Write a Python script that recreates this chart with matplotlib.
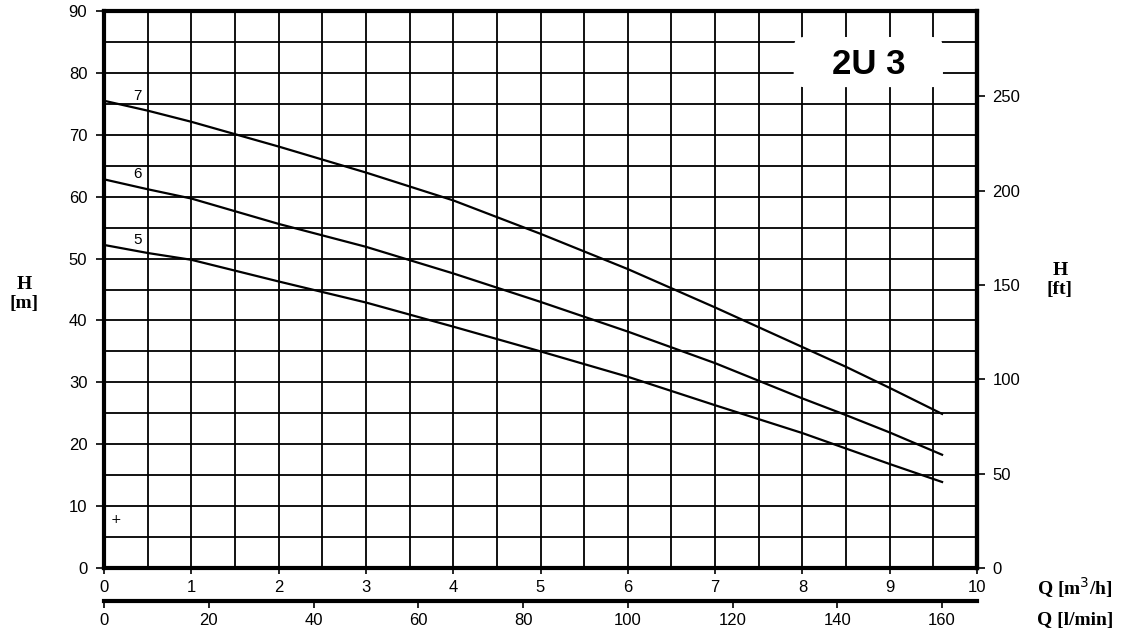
import numpy as np
import matplotlib
matplotlib.use("Agg")
import matplotlib.pyplot as plt
from matplotlib.patches import FancyBboxPatch

# caudal Q [m3/h] y altura H [m] para 5, 6 y 7 etapas
q = [0, 0.5, 1, 2, 3, 4, 5, 6, 7, 8, 8.5, 9, 9.6]
h7 = [75.5, 73.9, 72.1, 68.1, 63.9, 59.4, 54.0, 48.3, 42.1, 35.7, 32.5, 29.1, 24.9]
h6 = [62.8, 61.2, 59.7, 55.6, 51.9, 47.6, 43.0, 38.2, 33.1, 27.4, 24.7, 21.9, 18.3]
h5 = [52.2, 50.9, 49.8, 46.3, 42.9, 39.0, 35.0, 30.9, 26.3, 21.8, 19.3, 16.8, 13.9]
curvas = [("7", h7), ("6", h6), ("5", h5)]

ticks_m3h = list(range(0, 11))
ticks_lmin = list(range(0, 161, 20))
ticks_m = list(range(0, 91, 10))
ticks_ft = list(range(0, 251, 50))
modelo = "2U 3"

fig = plt.figure(figsize=(11.21, 6.32), dpi=100)
ax = fig.add_axes([104/1121, 64/632, 873/1121, 557/632])
ax.set_xlim(0, 10)
ax.set_ylim(0, 90)

# rejilla
for x in np.arange(0.5, 10, 0.5):
    ax.axvline(x, color="black", lw=1.3, zorder=1)
for y in range(5, 90, 5):
    ax.axhline(y, color="black", lw=1.3, zorder=1)

for nombre, h in curvas:
    ax.plot(q, h, color="black", lw=1.6, zorder=3)
    ax.text(0.38, h[0] + 0.8, nombre, fontsize=11, family="Liberation Sans",
            ha="center", va="center", zorder=4)

ax.text(0.14, 7.8, "+", fontsize=9, ha="center", va="center")

# recuadro del modelo
caja = FancyBboxPatch((7.9, 77.7), 1.71, 8.1, boxstyle="round,pad=0,rounding_size=0.12",
                      fc="white", ec="none", zorder=5, mutation_aspect=14)
ax.add_patch(caja)
ax.text(8.76, 81.4, modelo, fontsize=25, fontweight="bold", family="Liberation Sans",
        ha="center", va="center", zorder=6)

for s in ax.spines.values():
    s.set_linewidth(3)

ax.set_xticks(ticks_m3h)
ax.set_yticks(ticks_m)
ax.tick_params(axis="x", length=4, width=1.2, pad=5, labelsize=12)
ax.tick_params(axis="y", length=6, width=1.2, pad=6, labelsize=12)
for t in ax.get_xticklabels() + ax.get_yticklabels():
    t.set_family("Liberation Sans")

sec_x = ax.secondary_xaxis(-0.059, functions=(lambda v: v * 1000 / 60, lambda v: v * 60 / 1000))
sec_x.set_xticks(ticks_lmin)
sec_x.spines["bottom"].set_linewidth(3)
sec_x.tick_params(length=5, width=1.2, pad=4, labelsize=12)
for t in sec_x.get_xticklabels():
    t.set_family("Liberation Sans")

sec_y = ax.secondary_yaxis("right", functions=(lambda v: v * 3.28084, lambda v: v / 3.28084))
sec_y.set_yticks(ticks_ft)
sec_y.spines["right"].set_linewidth(3)
sec_y.tick_params(length=6, width=1.2, pad=5, labelsize=12)
for t in sec_y.get_yticklabels():
    t.set_family("Liberation Sans")

serif = dict(family="Liberation Serif", fontweight="bold", fontsize=14, ha="center", va="center")
fig.text(24/1121, 1 - 294/632, "H\n[m]", linespacing=1.2, **serif)
fig.text(1060/1121, 1 - 280/632, "H\n[ft]", linespacing=1.2, **serif)
fig.text(1075/1121, 1 - 588/632, "Q [m$^3$/h]", **serif)
fig.text(1075/1121, 1 - 621/632, "Q [l/min]", **serif)

fig.savefig("out.png", dpi=100)
